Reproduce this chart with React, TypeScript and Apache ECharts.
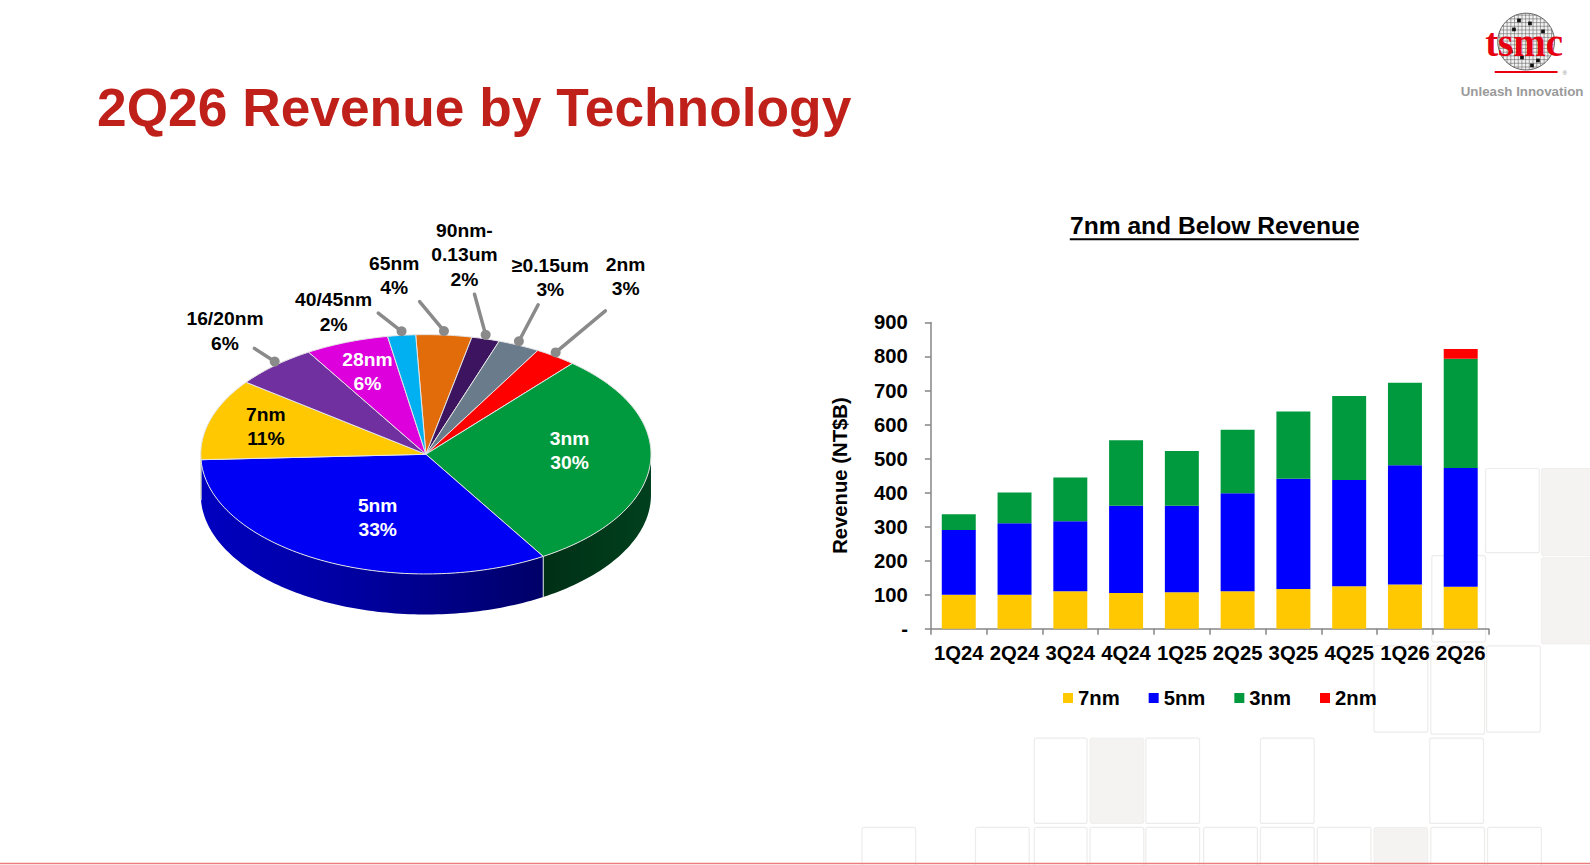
import React, { useEffect, useRef } from "react";
import * as echarts from "echarts";

// ---------- DATA ----------
const quarters = ["1Q24", "2Q24", "3Q24", "4Q24", "1Q25", "2Q25", "3Q25", "4Q25", "1Q26", "2Q26"];
const rev7nm = [100, 100, 110, 105, 107, 110, 117, 125, 130, 123];
const rev5nm = [190, 210, 206, 256, 254, 288, 324, 312, 350, 349];
const rev3nm = [46, 90, 128, 193, 161, 187, 197, 247, 243, 321];
const rev2nm = [0, 0, 0, 0, 0, 0, 0, 0, 0, 29];
const yTickMax = 900;
const yTickStep = 100;

const pieNames = ["65nm", "90nm-\n0.13um", "≥0.15um", "2nm", "3nm", "5nm", "7nm", "16/20nm", "28nm", "40/45nm"];
const pieShares = [4, 2, 3, 3, 30, 33, 11, 6, 6, 2];

// ---------- STYLES ----------
const S = 1590 / 1568;
const p = (v: number) => v * S;
const FONT = '"Liberation Sans", Arial, Helvetica, sans-serif';
const barColors: Record<string, string> = { "7nm": "#FFC800", "5nm": "#0000FF", "3nm": "#009A3E", "2nm": "#FF0000" };
const pieColors = ["#E36C0A", "#3D1460", "#6A7B8B", "#FF0000", "#009A3E", "#0000F5", "#FFC800", "#7030A0", "#DD00DD", "#00B0F0"];
const pieLabelColors = ["#000", "#000", "#000", "#000", "#fff", "#fff", "#000", "#000", "#fff", "#000"];
// inside labels: [radius fraction, dx, dy]
const pieInside: (number[] | null)[] = [null, null, null, null, [0.64, 0, -10], [0.6, 15, 0], [0.73, -3, -2], null, [0.75, 1, 1], null];
// outside labels: [lineEndDx, lineEndDy, textDx, textDy] relative to rim dot
const pieLeader: (number[] | null)[] = [
  [-24, -29, -49, -55],
  [-11, -40, -21, -79],
  [19, -36, 31, -63],
  [49, -41, 69, -75],
  null, null, null,
  [-20, -13, -49, -30],
  null,
  [-23, -18, -67, -19],
];
const PIE_CX = p(420), PIE_CY = p(448), PIE_RX = p(222), PIE_RY = p(118), PIE_DEPTH = p(40), PIE_START = 92.6;
const LABEL_FS = 19 * S;
const LABEL_LH = 24 * S;

function wallFill(i: number): any {
  const name = pieNames[i];
  if (name === "3nm")
    return new echarts.graphic.LinearGradient(0, 0, 1, 0, [
      { offset: 0, color: "#003016" },
      { offset: 1, color: "#00401e" },
    ]);
  if (name === "5nm")
    return new echarts.graphic.LinearGradient(0, 0, 1, 0, [
      { offset: 0, color: "#0000c0" },
      { offset: 0.5, color: "#00009c" },
      { offset: 1, color: "#000068" },
    ]);
  if (name === "7nm") return "#a88400";
  return "#444";
}

function rimPt(deg: number, yOff = 0, k = 1): number[] {
  const r = (deg * Math.PI) / 180;
  return [PIE_CX + PIE_RX * k * Math.cos(r), PIE_CY - PIE_RY * k * Math.sin(r) + yOff];
}
function arcPts(a: number, b: number, yOff = 0): number[][] {
  const n = Math.max(2, Math.ceil(Math.abs(b - a) / 1.2));
  const pts: number[][] = [];
  for (let s = 0; s <= n; s++) pts.push(rimPt(a + ((b - a) * s) / n, yOff));
  return pts;
}

const pieTotal = pieShares.reduce((a, b) => a + b, 0);

function renderPieSlice(params: any, api: any) {
  const i = params.dataIndex;
  const share = api.value(0);
  let cum = 0;
  for (let j = 0; j < i; j++) cum += pieShares[j];
  const a0 = PIE_START - (cum / pieTotal) * 360;
  const a1 = a0 - (share / pieTotal) * 360;
  const children: any[] = [];
  const lo = Math.max(a1, -180);
  const hi = Math.min(a0, 0);
  if (lo < hi) {
    const top = arcPts(hi, lo, 0);
    const bottom = arcPts(lo, hi, PIE_DEPTH);
    children.push({
      type: "polygon",
      shape: { points: [...top, ...bottom] },
      style: { fill: wallFill(i), stroke: "none" },
    });
    [a0, a1].forEach((ang) => {
      if (ang < 0 && ang > -180) {
        const pt = rimPt(ang);
        children.push({
          type: "line",
          shape: { x1: pt[0], y1: pt[1], x2: pt[0], y2: pt[1] + PIE_DEPTH },
          style: { stroke: "rgba(220,230,220,0.8)", lineWidth: 1 },
        });
      }
    });
  }
  children.push({
    type: "polygon",
    shape: { points: [[PIE_CX, PIE_CY], ...arcPts(a0, a1, 0)] },
    style: { fill: pieColors[i], stroke: "#e4e4e4", lineWidth: 1 },
  });
  const text = `${pieNames[i]}\n${share}%`;
  const mid = (a0 + a1) / 2;
  const ins = pieInside[i];
  const lead = pieLeader[i];
  const txtStyle = { fontSize: LABEL_FS, fontWeight: "bold", fontFamily: FONT, align: "center", verticalAlign: "middle", lineHeight: LABEL_LH };
  if (ins) {
    const pt = rimPt(mid, 0, ins[0]);
    children.push({
      type: "text",
      z2: 10,
      style: { ...txtStyle, text, x: pt[0] + p(ins[1]), y: pt[1] + p(ins[2]), fill: pieLabelColors[i] },
    });
  } else if (lead) {
    const d = rimPt(mid, -p(4));
    children.push({
      type: "line",
      shape: { x1: d[0], y1: d[1], x2: d[0] + p(lead[0]), y2: d[1] + p(lead[1]) },
      style: { stroke: "#8a8a8a", lineWidth: 3.5, lineCap: "round" },
    });
    children.push({ type: "circle", shape: { cx: d[0], cy: d[1], r: 5 }, style: { fill: "#8a8a8a" } });
    children.push({
      type: "text",
      style: { ...txtStyle, text, x: d[0] + p(lead[2]), y: d[1] + p(lead[3]), fill: "#000" },
    });
  }
  return { type: "group", children };
}

// ---------- DECOR ----------
function logoGraphics(): any[] {
  const cx = p(1505), cy = p(41), r = p(28);
  const els: any[] = [];
  els.push({ type: "circle", shape: { cx, cy, r }, style: { fill: "#f2f2f2", stroke: "#666", lineWidth: 1 } });
  for (let k = -r + 2; k < r; k += 3.7) {
    const h = Math.sqrt(r * r - k * k);
    els.push({ type: "line", shape: { x1: cx - h, y1: cy + k, x2: cx + h, y2: cy + k }, style: { stroke: "#6a6a6a", lineWidth: 0.6 } });
    els.push({ type: "line", shape: { x1: cx + k, y1: cy - h, x2: cx + k, y2: cy + h }, style: { stroke: "#6a6a6a", lineWidth: 0.6 } });
  }
  const blk = [[-9, -23], [2, -20], [-14, -14], [15, -12], [-6, 14], [10, 17], [-17, 8], [4, 22]];
  blk.forEach(([dx, dy]) => els.push({ type: "rect", shape: { x: cx + dx, y: cy + dy, width: 3.7, height: 3.7 }, style: { fill: "#111" } }));
  els.push({
    type: "text",
    style: { text: "tsmc", x: cx - 2, y: cy + 1, fill: "#E60012", font: 'bold 39px "Liberation Serif", "Times New Roman", serif', align: "center", verticalAlign: "middle" },
  });
  els.push({ type: "line", shape: { x1: p(1474), y1: p(71), x2: p(1536), y2: p(71) }, style: { stroke: "#E60012", lineWidth: 2 } });
  els.push({ type: "text", style: { text: "®", x: p(1543), y: p(72), fill: "#888", fontSize: 6, fontFamily: FONT, align: "center", verticalAlign: "middle" } });
  els.push({
    type: "text",
    style: { text: "Unleash Innovation", x: p(1501), y: p(90), fill: "#9a9a9a", fontSize: 13.3, fontWeight: "bold", fontFamily: FONT, align: "center", verticalAlign: "middle" },
  });
  return els;
}

const bgBoxes: number[][] = [
  // x, y, w, h, filled(1) / outline(0)
  [1465, 462, 53, 83, 0], [1520, 462, 70, 86, 1],
  [1412, 548, 53, 85, 0], [1520, 550, 70, 85, 1],
  [1355, 637, 53, 85, 0], [1411, 637, 53, 87, 0], [1466, 637, 53, 85, 0],
  [1020, 728, 52, 84, 0], [1075, 728, 53, 84, 1], [1130, 728, 53, 84, 0], [1243, 728, 53, 84, 0], [1410, 728, 53, 84, 0],
  [850, 816, 53, 49, 0], [962, 816, 53, 49, 0], [1020, 816, 52, 49, 0], [1075, 816, 53, 49, 0], [1130, 816, 53, 49, 0],
  [1187, 816, 53, 49, 0], [1243, 816, 53, 49, 0], [1299, 816, 53, 49, 0], [1355, 816, 53, 49, 1], [1411, 816, 53, 49, 0], [1467, 816, 53, 49, 0],
];

function bgGraphics(): any[] {
  return bgBoxes.map(([x, y, w, h, f]) => ({
    type: "rect",
    z: -10,
    shape: { x: p(x), y: p(y), width: p(w), height: p(h), r: 2 },
    style: f ? { fill: "#f4f3f2", stroke: "#efeeed", lineWidth: 1 } : { fill: "none", stroke: "#eeeceb", lineWidth: 1.2 },
  }));
}

export default function App() {
  const ref = useRef<HTMLDivElement>(null);
  useEffect(() => {
    document.body.style.margin = "0";
    const chart = echarts.init(ref.current!, undefined, { renderer: "svg", width: 1590, height: 865 });
    const barSeries = [
      { name: "7nm", data: rev7nm },
      { name: "5nm", data: rev5nm },
      { name: "3nm", data: rev3nm },
      { name: "2nm", data: rev2nm },
    ].map((s) => ({
      type: "bar",
      name: s.name,
      stack: "rev",
      data: s.data,
      barWidth: p(33.5),
      itemStyle: { color: barColors[s.name] },
      emphasis: { disabled: true },
    }));
    const axisFs = 20 * S;
    const option: any = {
      animation: false,
      backgroundColor: "#ffffff",
      textStyle: { fontFamily: FONT },
      title: [
        {
          text: "2Q26 Revenue by Technology",
          left: 92,
          top: 76,
          textStyle: { fontSize: 53.3, fontWeight: "bold", color: "#C0201A", fontFamily: FONT },
        },
        {
          text: "7nm and Below Revenue",
          left: 1065,
          top: 208,
          textStyle: { fontSize: 24.6, fontWeight: "bold", color: "#000", fontFamily: FONT },
        },
      ],
      grid: { left: p(918), top: p(318), width: p(550), height: p(302), containLabel: false },
      xAxis: {
        type: "category",
        data: quarters,
        axisLine: { lineStyle: { color: "#868686", width: 1.5 } },
        axisTick: { show: true, alignWithLabel: false, length: 6, lineStyle: { color: "#868686", width: 1.5 } },
        axisLabel: { color: "#000", fontSize: axisFs, fontWeight: "bold", fontFamily: FONT, margin: 14, interval: 0 },
      },
      yAxis: {
        type: "value",
        min: 0,
        max: yTickMax,
        interval: yTickStep,
        name: "Revenue (NT$B)",
        nameLocation: "middle",
        nameRotate: 90,
        nameGap: 81,
        nameTextStyle: { color: "#000", fontSize: axisFs, fontWeight: "bold", fontFamily: FONT },
        axisLine: { show: true, lineStyle: { color: "#868686", width: 1.5 } },
        axisTick: { show: true, length: 6, lineStyle: { color: "#868686", width: 1.5 } },
        splitLine: { show: false },
        axisLabel: {
          color: "#000",
          fontSize: axisFs,
          fontWeight: "bold",
          fontFamily: FONT,
          margin: 23,
          formatter: (v: number) => (v === 0 ? "-" : String(v)),
        },
      },
      legend: {
        data: ["7nm", "5nm", "3nm", "2nm"],
        left: 1058,
        top: 683,
        icon: "rect",
        itemWidth: 10,
        itemHeight: 10,
        itemGap: 29,
        textStyle: { color: "#000", fontSize: axisFs, fontWeight: "bold", fontFamily: FONT, padding: [0, 0, 0, 0] },
        selectedMode: false,
      },
      graphic: [
        ...bgGraphics(),
        { type: "line", shape: { x1: p(1055), y1: p(236), x2: p(1340), y2: p(236) }, style: { stroke: "#000", lineWidth: 2 } },
        { type: "line", shape: { x1: 0, y1: 863.5, x2: 1590, y2: 863.5 }, style: { stroke: "#EE7C7E", lineWidth: 1.5 } },
        ...logoGraphics(),
      ],
      series: [
        ...barSeries,
        {
          type: "custom",
          name: "Technology",
          coordinateSystem: "none",
          data: pieShares,
          renderItem: renderPieSlice,
          silent: true,
          z: 5,
        },
      ],
    };
    chart.setOption(option);
    return () => chart.dispose();
  }, []);
  return <div ref={ref} style={{ width: 1590, height: 865, background: "#fff" }} />;
}
